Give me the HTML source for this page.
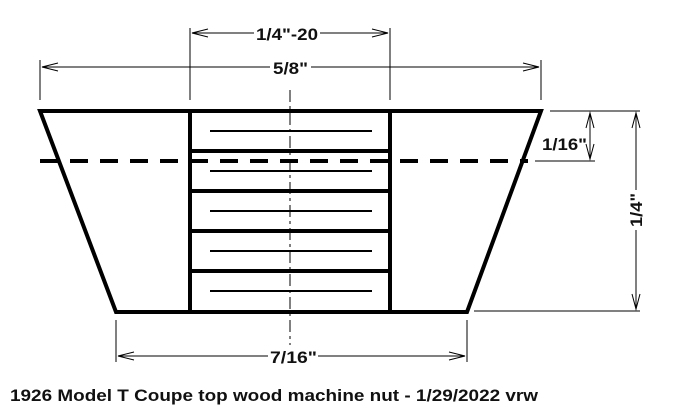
<!DOCTYPE html>
<html><head><style>body{margin:0;background:#fff}svg{display:block}</style></head><body>
<svg width="674" height="419" xmlns="http://www.w3.org/2000/svg" font-family="Liberation Sans, sans-serif" font-weight="bold">
<g stroke="#000" fill="none">
<polygon points="40,111 541,111 467,312 116,312" stroke-width="4"/>
<line x1="190" y1="111" x2="190" y2="312" stroke-width="4"/>
<line x1="390" y1="111" x2="390" y2="312" stroke-width="4"/>
<line x1="190" y1="151" x2="390" y2="151" stroke-width="4"/>
<line x1="190" y1="191" x2="390" y2="191" stroke-width="4"/>
<line x1="190" y1="231" x2="390" y2="231" stroke-width="4"/>
<line x1="190" y1="271" x2="390" y2="271" stroke-width="4"/>
<g stroke-width="2">
<line x1="210" y1="131" x2="372" y2="131"/>
<line x1="210" y1="171" x2="372" y2="171"/>
<line x1="210" y1="211" x2="372" y2="211"/>
<line x1="210" y1="251" x2="372" y2="251"/>
<line x1="210" y1="291" x2="372" y2="291"/>
</g>
<line x1="40" y1="161" x2="528" y2="161" stroke-width="4" stroke-dasharray="18,12"/>
<line x1="290" y1="90" x2="290" y2="345" stroke-width="1" stroke-dasharray="12,4,3,4"/>
<g stroke-width="1">
<line x1="190" y1="28" x2="190" y2="100"/><line x1="390" y1="28" x2="390" y2="100"/>
<line x1="192" y1="33" x2="254" y2="33"/><line x1="320" y1="33" x2="388" y2="33"/>
<path d="M208,29 L192,33 L208,37 M372,29 L388,33 L372,37"/>
<line x1="40" y1="60" x2="40" y2="100"/><line x1="541" y1="60" x2="541" y2="100"/>
<line x1="42" y1="67" x2="270" y2="67"/><line x1="311" y1="67" x2="539" y2="67"/>
<path d="M58,63 L42,67 L58,71 M523,63 L539,67 L523,71"/>
<line x1="550" y1="111" x2="640" y2="111"/><line x1="535" y1="161" x2="595" y2="161"/>
<line x1="590" y1="113" x2="590" y2="159"/>
<path d="M586,128 L590,113 L594,128 M586,144 L590,159 L594,144"/>
<line x1="474" y1="311" x2="640" y2="311"/>
<line x1="636" y1="113" x2="636" y2="190"/><line x1="636" y1="230" x2="636" y2="309"/>
<path d="M632,128 L636,113 L640,128 M632,294 L636,309 L640,294"/>
<line x1="116" y1="320" x2="116" y2="362"/><line x1="467" y1="320" x2="467" y2="362"/>
<line x1="118" y1="356" x2="268" y2="356"/><line x1="318" y1="356" x2="465" y2="356"/>
<path d="M134,352 L118,356 L134,360 M449,352 L465,356 L449,360"/>
</g>
</g>
<g font-size="17" fill="#111">
<text x="256" y="40" textLength="62" lengthAdjust="spacingAndGlyphs">1/4"-20</text>
<text x="273" y="74" textLength="35" lengthAdjust="spacingAndGlyphs">5/8"</text>
<text x="542" y="150" textLength="45" lengthAdjust="spacingAndGlyphs">1/16"</text>
<text x="270" y="363" textLength="47" lengthAdjust="spacingAndGlyphs">7/16"</text>
<text transform="translate(642,227) rotate(-90)" textLength="34" lengthAdjust="spacingAndGlyphs">1/4"</text>
<text x="10" y="401" textLength="528" lengthAdjust="spacingAndGlyphs">1926 Model T Coupe top wood machine nut - 1/29/2022 vrw</text>
</g>
</svg>
</body></html>
